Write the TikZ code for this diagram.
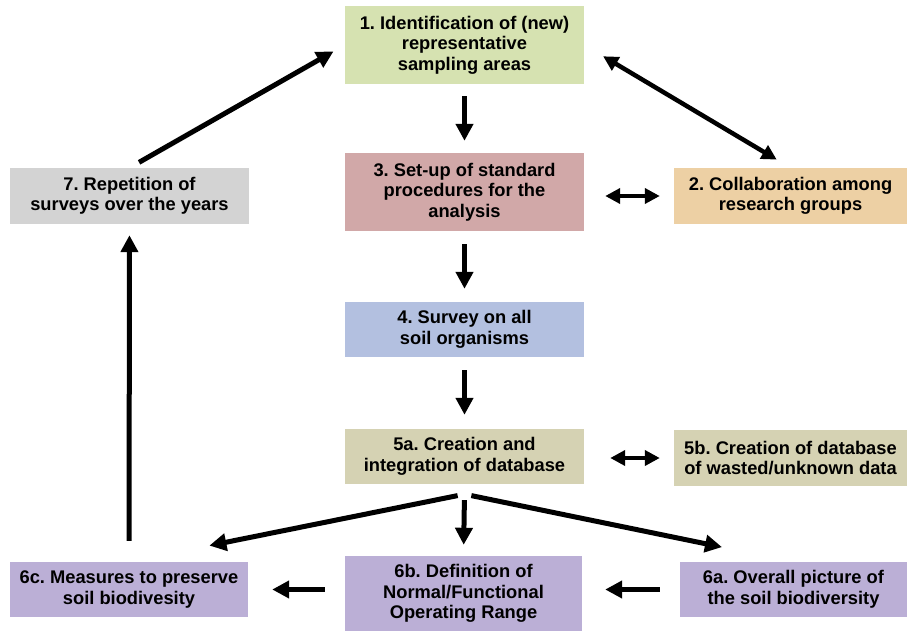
\documentclass[tikz,border=0pt]{standalone}
\usepackage{fontspec}
\setmainfont{Liberation Sans}
\usetikzlibrary{arrows.meta,calc}
\definecolor{stepgreen}{HTML}{D6E2B1}
\definecolor{steprose}{HTML}{D1A8A8}
\definecolor{steptan}{HTML}{EDD0A4}
\definecolor{stepgray}{HTML}{D3D3D3}
\definecolor{stepblue}{HTML}{B3C0E0}
\definecolor{stepkhaki}{HTML}{D5D2B3}
\definecolor{steplilac}{HTML}{BBAFD6}
\frenchspacing
\begin{document}
\begin{tikzpicture}[x=1pt,y=-1pt,
	stage/.style={fill=#1,minimum width=239pt,minimum height=55pt,inner sep=0pt,align=center,
		font=\bfseries\fontsize{18.3pt}{20.5pt}\selectfont},
	flow/.style={line width=5pt,-{Triangle[length=17pt,width=17pt]}},
	both/.style={line width=4.5pt,{Triangle[length=15pt,width=15pt]}-{Triangle[length=15pt,width=15pt]}}]
		\fill[white] (0,0) rectangle (907,631);
		\useasboundingbox (0,0) rectangle (907,631);
		% steps of the survey
		\node[stage=stepgreen,minimum height=78pt] (b1) at (464.5,45) {1. Identification of (new)\\representative\\sampling areas};
		\node[stage=steprose,minimum height=78pt] (b3) at (464.5,192) {3. Set-up of standard\\procedures for the\\analysis};
		\node[stage=steptan,minimum width=233pt,minimum height=56pt] (b2) at (790.5,196) {2. Collaboration among\\research groups};
		\node[stage=stepgray,minimum height=56pt] (b7) at (129.5,196) {7. Repetition of\\surveys over the years};
		\node[stage=stepblue] (b4) at (464.5,329.5) {4. Survey on all\\soil organisms};
		\node[stage=stepkhaki] (b5a) at (464.5,456.5) {5a. Creation and\\integration of database};
		\node[stage=stepkhaki,minimum width=233pt,minimum height=56pt] (b5b) at (790.5,458) {5b. Creation of database\\of wasted/unknown data};
		\node[stage=steplilac,minimum width=238pt] (b6c) at (129,589.5) {6c. Measures to preserve\\soil biodivesity};
		\node[stage=steplilac,minimum width=237pt,minimum height=75pt] (b6b) at (463.5,593.5) {6b. Definition of\\Normal/Functional\\Operating Range};
		\node[stage=steplilac,minimum width=227pt] (b6a) at (793.5,589.5) {6a. Overall picture of\\the soil biodiversity};
		\coordinate (fork) at ($(b5a.south)+(0,10)$);
		% connectors
		\draw[flow,shorten <=12pt,shorten >=12pt] (b1) -- (b3);
		\draw[flow,shorten <=13pt,shorten >=13pt] (b3) -- (b4);
		\draw[flow,shorten <=13pt,shorten >=14pt] (b4) -- (b5a);
		\draw[both,shorten <=21pt,shorten >=14pt] (b2.west -| b3.east) -- (b2.west);
		\draw[both,shorten <=22pt,shorten >=16pt] (b1.east) -- (b2.north);
		\draw[both,shorten <=26pt,shorten >=14pt] (b5b.west -| b5a.east) -- (b5b.west);
		\draw[flow,shorten <=7pt,shorten >=82pt] (fork) -- (b6c.north);
		\draw[flow,shorten <=6pt,shorten >=11pt] (fork) -- (b6b.north);
		\draw[flow,shorten <=7pt,shorten >=73pt] (fork) -- (b6a.north);
		\draw[flow,shorten <=20pt,shorten >=23pt] (b6a.west) -- (b6a.west -| b6b.east);
		\draw[flow,shorten <=20pt,shorten >=24pt] (b6c.east -| b6b.west) -- (b6c.east);
		\draw[flow,shorten <=21pt,shorten >=11pt] (b6c) -- (b7);
		\draw[flow,shorten <=11pt,shorten >=13pt] (b7.north) -- (b1.west);
\end{tikzpicture}
\end{document}
